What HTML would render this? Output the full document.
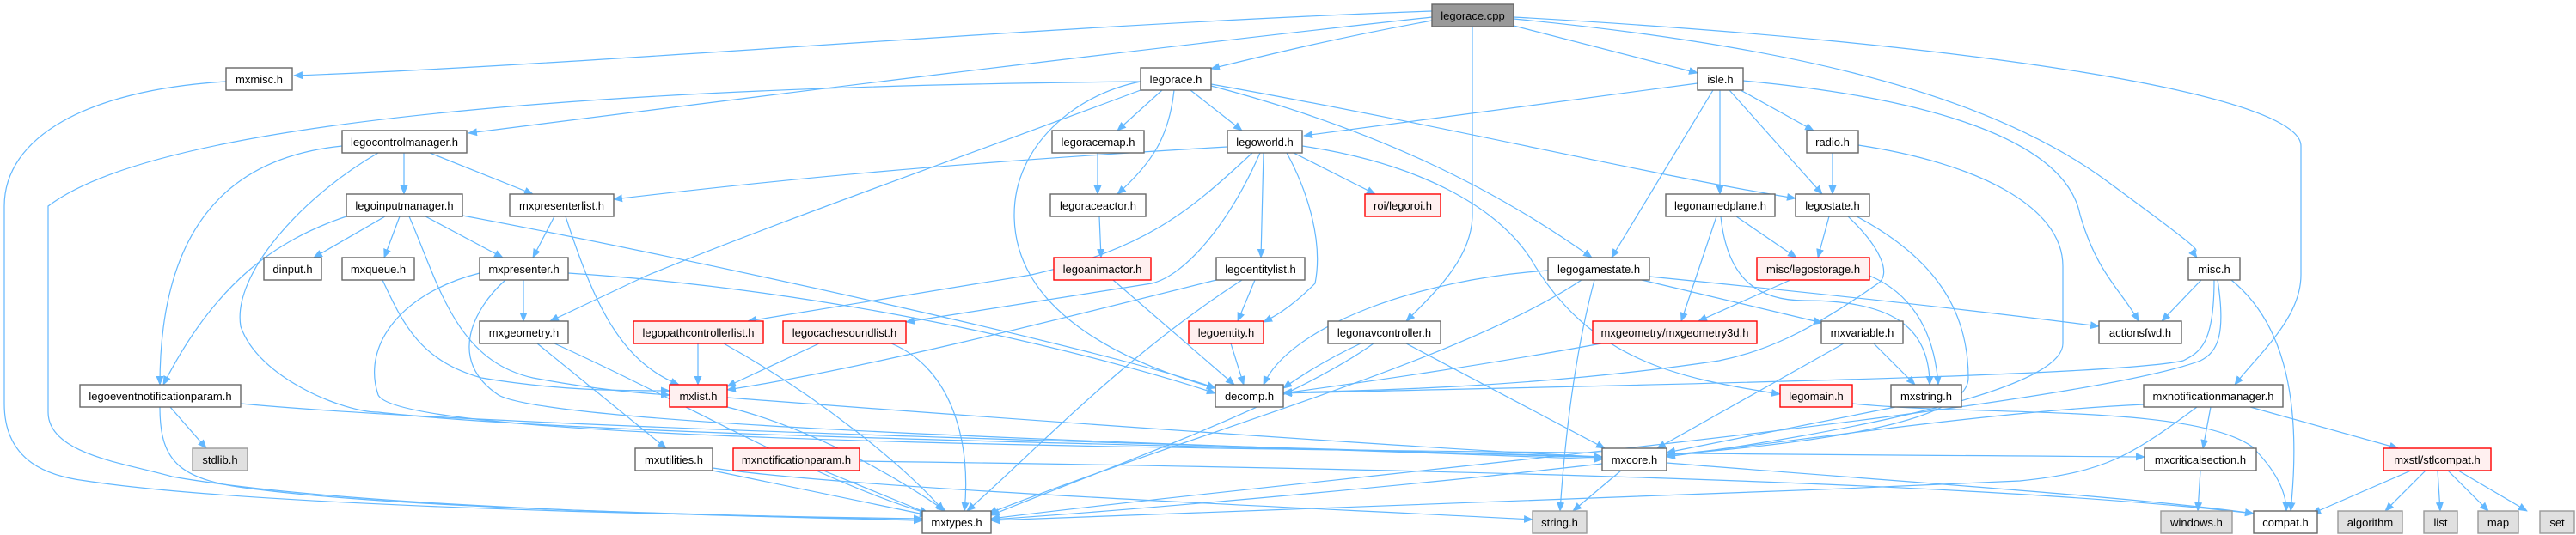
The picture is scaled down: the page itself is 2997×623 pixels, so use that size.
<!DOCTYPE html>
<html><head><meta charset="utf-8"><style>
html,body{margin:0;padding:0;background:#fff}
svg{display:block}
text{font-family:"Liberation Sans",sans-serif;font-size:13px;fill:#000}
.e path{fill:none;stroke:#63b8ff;stroke-width:1.2}
.n{fill:#fff;stroke:#666;stroke-width:1.4}
.r{fill:#fff0f0;stroke:#ff0000;stroke-width:1.4}
.g{fill:#e0e0e0;stroke:#999;stroke-width:1.4}
.c{fill:#999;stroke:#666;stroke-width:1.4}
</style></head><body>
<svg width="2997" height="623" viewBox="0 0 2997 623" xmlns="http://www.w3.org/2000/svg">
<defs><marker id="a" markerWidth="11" markerHeight="9" refX="10" refY="4.5" orient="auto" markerUnits="userSpaceOnUse"><path d="M0,0 L11,4.5 L0,9 Z" fill="#63b8ff"/></marker></defs>
<g class="e" marker-end="url(#a)">
<path d="M1666,13 C1200,30 700,75 342,88"/>
<path d="M1666,20 C1300,60 900,110 545,155"/>
<path d="M1666,24 C1550,45 1470,65 1409,80"/>
<path d="M1713,31 L1713,250 C1713,300 1670,340 1636,374"/>
<path d="M1761,30 L1975,85"/>
<path d="M1761,22 C2050,50 2300,100 2450,210 S2540,280 2556,300"/>
<path d="M1761,20 C2300,50 2677,110 2677,170 L2677,320 C2677,370 2630,410 2600,448"/>
<path d="M263,95 C100,105 5,160 5,240 L5,470 C5,540 60,555 100,560 C300,590 800,600 1073,604"/>
<path d="M1327,95 C800,100 200,130 56,240 L56,480 C56,530 150,540 200,555 C400,590 800,600 1073,606"/>
<path d="M470,178 L470,226"/>
<path d="M500,178 L620,226"/>
<path d="M398,170 C300,180 186,230 186,448"/>
<path d="M440,178 C350,230 270,320 280,380 C300,440 400,480 440,480 C700,510 1500,520 1864,532"/>
<path d="M448,252 L365,300"/>
<path d="M465,252 L447,300"/>
<path d="M495,252 L585,300"/>
<path d="M403,252 C320,280 250,330 190,448"/>
<path d="M538,251 C800,300 1300,410 1414,452"/>
<path d="M476,252 C510,330 530,420 620,440 C700,455 750,458 779,460"/>
<path d="M645,252 L620,300"/>
<path d="M658,252 C690,350 720,420 790,448"/>
<path d="M609,326 L609,374"/>
<path d="M661,318 C1000,340 1300,420 1414,458"/>
<path d="M588,326 C550,360 520,420 580,460 C650,500 1500,520 1864,535"/>
<path d="M558,318 C470,340 420,400 440,460 C470,520 1500,525 2495,532"/>
<path d="M625,400 L775,522"/>
<path d="M645,400 C800,470 950,560 1080,598"/>
<path d="M445,326 C470,380 490,420 560,440 C650,455 720,455 779,455"/>
<path d="M198,474 L240,522"/>
<path d="M186,474 C186,540 210,560 300,570 C500,595 900,600 1073,606"/>
<path d="M280,470 C600,500 1500,520 1864,533"/>
<path d="M1352,105 L1300,152"/>
<path d="M1366,105 C1360,160 1340,190 1300,226"/>
<path d="M1385,105 L1445,152"/>
<path d="M1409,100 C1600,150 1740,220 1852,300"/>
<path d="M1409,98 C1700,150 1900,200 2089,231"/>
<path d="M1327,95 C1250,110 1180,170 1180,250 C1180,360 1300,420 1414,452"/>
<path d="M1327,105 C1100,190 900,260 750,322 L640,374"/>
<path d="M1277,178 L1277,226"/>
<path d="M1279,252 L1281,300"/>
<path d="M1295,326 L1436,448"/>
<path d="M1428,171 C1100,190 900,210 714,232"/>
<path d="M1457,178 C1380,250 1330,290 1200,320 L870,374"/>
<path d="M1466,178 C1430,260 1380,320 1340,330 L1054,375"/>
<path d="M1470,178 L1467,300"/>
<path d="M1497,178 C1520,220 1540,280 1530,330 C1500,360 1480,370 1470,375"/>
<path d="M1505,178 L1600,226"/>
<path d="M1515,170 C1650,190 1740,240 1780,300 C1850,420 1950,440 2071,459"/>
<path d="M1460,326 L1440,374"/>
<path d="M1415,326 C1200,380 1000,430 846,454"/>
<path d="M1445,326 C1300,420 1200,530 1125,595"/>
<path d="M812,400 L812,448"/>
<path d="M842,400 C950,460 1050,540 1098,595"/>
<path d="M953,400 L846,450"/>
<path d="M1037,400 C1110,430 1130,520 1122,595"/>
<path d="M1432,400 L1447,448"/>
<path d="M846,463 C1200,490 1700,525 1864,532"/>
<path d="M846,474 C950,500 1050,560 1100,595"/>
<path d="M829,548 L1080,600"/>
<path d="M829,545 C1000,570 1500,590 1783,605"/>
<path d="M958,548 L1080,598"/>
<path d="M1000,537 C1600,545 2300,560 2622,598"/>
<path d="M1975,97 L1517,158"/>
<path d="M1993,105 L1875,300"/>
<path d="M2001,105 L2001,226"/>
<path d="M2012,105 L2120,226"/>
<path d="M2025,105 L2110,152"/>
<path d="M2028,94 C2200,110 2400,150 2420,250 C2440,320 2470,340 2488,374"/>
<path d="M2132,178 L2132,226"/>
<path d="M2162,169 C2300,190 2400,240 2400,310 L2400,400 C2400,460 2100,510 1939,532"/>
<path d="M1997,252 L1956,374"/>
<path d="M2020,252 L2090,300"/>
<path d="M2002,252 C2010,330 2050,350 2100,350 C2200,350 2245,380 2245,448"/>
<path d="M2128,252 L2115,300"/>
<path d="M2150,252 C2190,290 2200,320 2185,330 C2100,390 2050,410 2000,420 C1800,450 1600,455 1493,457"/>
<path d="M2160,252 C2250,300 2290,360 2290,440 C2290,500 2050,520 1939,530"/>
<path d="M2083,326 L1976,374"/>
<path d="M2175,321 C2220,340 2250,380 2255,448"/>
<path d="M1801,315 C1650,325 1500,380 1470,448"/>
<path d="M1840,326 C1700,420 1400,500 1150,598"/>
<path d="M1855,326 C1830,420 1820,520 1815,595"/>
<path d="M1910,326 L2120,376"/>
<path d="M1919,322 C2200,350 2350,368 2442,380"/>
<path d="M1583,400 C1540,420 1510,440 1493,452"/>
<path d="M1598,400 C1500,470 1300,540 1153,600"/>
<path d="M1636,400 L1867,522"/>
<path d="M1863,400 C1700,430 1550,450 1493,458"/>
<path d="M2180,400 L2228,448"/>
<path d="M2145,400 L1928,522"/>
<path d="M2155,470 C2300,485 2550,470 2620,520 C2650,550 2660,575 2660,595"/>
<path d="M2205,474 C2100,495 2000,515 1939,527"/>
<path d="M1864,540 C1600,570 1300,595 1153,605"/>
<path d="M1886,548 L1830,595"/>
<path d="M1939,539 C2200,560 2500,580 2622,598"/>
<path d="M2561,326 L2515,374"/>
<path d="M2576,326 C2576,400 2560,410 2540,420 C2450,440 1800,450 1493,458"/>
<path d="M2580,326 C2590,390 2580,410 2560,420 C2400,480 1500,560 1153,604"/>
<path d="M2596,326 C2650,370 2680,450 2665,595"/>
<path d="M2494,471 C2300,480 2050,520 1939,530"/>
<path d="M2572,474 L2563,522"/>
<path d="M2618,474 L2790,522"/>
<path d="M2556,474 C2480,530 2450,550 2350,560 C1900,580 1400,600 1153,606"/>
<path d="M2560,548 L2557,595"/>
<path d="M2805,548 L2690,598"/>
<path d="M2822,548 L2775,595"/>
<path d="M2836,548 L2839,595"/>
<path d="M2848,548 L2895,595"/>
<path d="M2860,548 L2940,595"/>
</g>
<g text-anchor="middle">
<rect class="c" x="1666" y="5" width="95" height="26"/><text x="1713.5" y="23">legorace.cpp</text>
<rect class="n" x="263" y="79" width="77" height="26"/><text x="301.5" y="97">mxmisc.h</text>
<rect class="n" x="1327" y="79" width="82" height="26"/><text x="1368" y="97">legorace.h</text>
<rect class="n" x="1975" y="79" width="53" height="26"/><text x="2001.5" y="97">isle.h</text>
<rect class="n" x="398" y="152" width="145" height="26"/><text x="470.5" y="170">legocontrolmanager.h</text>
<rect class="n" x="1224" y="152" width="107" height="26"/><text x="1277.5" y="170">legoracemap.h</text>
<rect class="n" x="1428" y="152" width="87" height="26"/><text x="1471.5" y="170">legoworld.h</text>
<rect class="n" x="2102" y="152" width="60" height="26"/><text x="2132" y="170">radio.h</text>
<rect class="n" x="403" y="226" width="135" height="26"/><text x="470.5" y="244">legoinputmanager.h</text>
<rect class="n" x="593" y="226" width="121" height="26"/><text x="653.5" y="244">mxpresenterlist.h</text>
<rect class="n" x="1222" y="226" width="111" height="26"/><text x="1277.5" y="244">legoraceactor.h</text>
<rect class="r" x="1588" y="226" width="88" height="26"/><text x="1632" y="244">roi/legoroi.h</text>
<rect class="n" x="1938" y="226" width="127" height="26"/><text x="2001.5" y="244">legonamedplane.h</text>
<rect class="n" x="2089" y="226" width="86" height="26"/><text x="2132" y="244">legostate.h</text>
<rect class="n" x="307" y="300" width="67" height="26"/><text x="340.5" y="318">dinput.h</text>
<rect class="n" x="398" y="300" width="84" height="26"/><text x="440" y="318">mxqueue.h</text>
<rect class="n" x="558" y="300" width="103" height="26"/><text x="609.5" y="318">mxpresenter.h</text>
<rect class="r" x="1226" y="300" width="113" height="26"/><text x="1282.5" y="318">legoanimactor.h</text>
<rect class="n" x="1415" y="300" width="103" height="26"/><text x="1466.5" y="318">legoentitylist.h</text>
<rect class="n" x="1801" y="300" width="118" height="26"/><text x="1860" y="318">legogamestate.h</text>
<rect class="r" x="2044" y="300" width="131" height="26"/><text x="2109.5" y="318">misc/legostorage.h</text>
<rect class="n" x="2546" y="300" width="60" height="26"/><text x="2576" y="318">misc.h</text>
<rect class="n" x="558" y="374" width="103" height="26"/><text x="609.5" y="392">mxgeometry.h</text>
<rect class="r" x="737" y="374" width="151" height="26"/><text x="812.5" y="392">legopathcontrollerlist.h</text>
<rect class="r" x="911" y="374" width="143" height="26"/><text x="982.5" y="392">legocachesoundlist.h</text>
<rect class="r" x="1383" y="374" width="87" height="26"/><text x="1426.5" y="392">legoentity.h</text>
<rect class="n" x="1545" y="374" width="131" height="26"/><text x="1610.5" y="392">legonavcontroller.h</text>
<rect class="r" x="1853" y="374" width="191" height="26"/><text x="1948.5" y="392">mxgeometry/mxgeometry3d.h</text>
<rect class="n" x="2119" y="374" width="95" height="26"/><text x="2166.5" y="392">mxvariable.h</text>
<rect class="n" x="2442" y="374" width="96" height="26"/><text x="2490" y="392">actionsfwd.h</text>
<rect class="n" x="93" y="448" width="187" height="26"/><text x="186.5" y="466">legoeventnotificationparam.h</text>
<rect class="r" x="779" y="448" width="67" height="26"/><text x="812.5" y="466">mxlist.h</text>
<rect class="n" x="1414" y="448" width="79" height="26"/><text x="1453.5" y="466">decomp.h</text>
<rect class="r" x="2071" y="448" width="84" height="26"/><text x="2113" y="466">legomain.h</text>
<rect class="n" x="2200" y="448" width="82" height="26"/><text x="2241" y="466">mxstring.h</text>
<rect class="n" x="2494" y="448" width="162" height="26"/><text x="2575" y="466">mxnotificationmanager.h</text>
<rect class="g" x="224" y="522" width="64" height="26"/><text x="256" y="540">stdlib.h</text>
<rect class="n" x="739" y="522" width="90" height="26"/><text x="784" y="540">mxutilities.h</text>
<rect class="r" x="853" y="522" width="147" height="26"/><text x="926.5" y="540">mxnotificationparam.h</text>
<rect class="n" x="1864" y="522" width="75" height="26"/><text x="1901.5" y="540">mxcore.h</text>
<rect class="n" x="2495" y="522" width="130" height="26"/><text x="2560" y="540">mxcriticalsection.h</text>
<rect class="r" x="2773" y="522" width="125" height="26"/><text x="2835.5" y="540">mxstl/stlcompat.h</text>
<rect class="n" x="1073" y="595" width="80" height="26"/><text x="1113" y="613">mxtypes.h</text>
<rect class="g" x="1783" y="595" width="63" height="26"/><text x="1814.5" y="613">string.h</text>
<rect class="g" x="2514" y="595" width="83" height="26"/><text x="2555.5" y="613">windows.h</text>
<rect class="n" x="2622" y="595" width="74" height="26"/><text x="2659" y="613">compat.h</text>
<rect class="g" x="2720" y="595" width="75" height="26"/><text x="2757.5" y="613">algorithm</text>
<rect class="g" x="2820" y="595" width="39" height="26"/><text x="2839.5" y="613">list</text>
<rect class="g" x="2883" y="595" width="47" height="26"/><text x="2906.5" y="613">map</text>
<rect class="g" x="2955" y="595" width="40" height="26"/><text x="2975" y="613">set</text>
</g>
</svg>
</body></html>
